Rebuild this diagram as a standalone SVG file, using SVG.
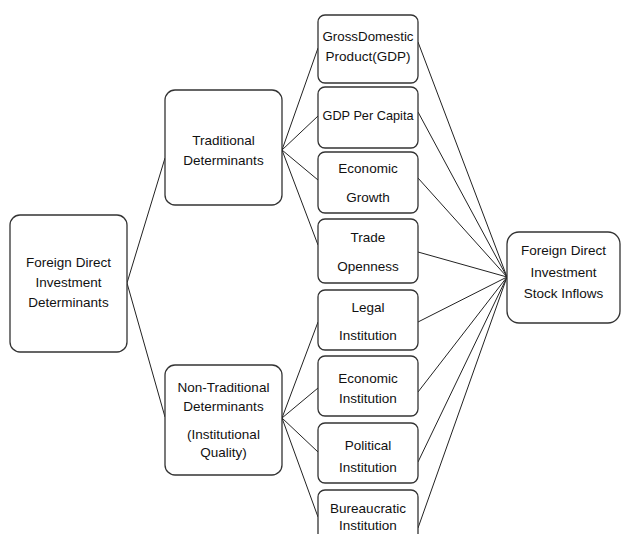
<svg xmlns="http://www.w3.org/2000/svg" width="623" height="534" viewBox="0 0 623 534">
<style>
.box{fill:#fff;stroke:#333;stroke-width:1.3}
.t{font-family:"Liberation Sans",Arial,sans-serif;font-size:13.5px;fill:#111;text-anchor:middle}
.c{stroke:#222;stroke-width:1;fill:none}
</style>
<rect width="623" height="534" fill="#fff"/>
<g id="connectors">
<path class="c" d="M127,283 L165,158 M127,283 L165,417"/>
<path class="c" d="M282,150 L318,48 M282,150 L318,116 M282,150 L318,180 M282,150 L318,245"/>
<path class="c" d="M282,418 L318,322 M282,418 L318,388 M282,418 L318,452 M282,418 L318,517"/>
<path class="c" d="M418,42 L507,277 M418,112 L507,277 M418,178 L507,277 M418,252 L507,277 M418,322 L507,277 M418,392 L507,277 M418,462 L507,277 M418,528 L507,277"/>
</g>
<g id="fdi-determinants">
<rect class="box" x="10" y="215" width="117" height="137" rx="10"/>
<text class="t" x="68.5" y="267">Foreign Direct</text>
<text class="t" x="68.5" y="287">Investment</text>
<text class="t" x="68.5" y="307">Determinants</text>
</g>
<g id="traditional">
<rect class="box" x="165" y="90" width="117" height="115" rx="10"/>
<text class="t" x="223.5" y="145">Traditional</text>
<text class="t" x="223.5" y="165">Determinants</text>
</g>
<g id="non-traditional">
<rect class="box" x="165" y="365" width="117" height="110" rx="10"/>
<text class="t" x="223.5" y="392">Non-Traditional</text>
<text class="t" x="223.5" y="411">Determinants</text>
<text class="t" x="223.5" y="439">(Institutional</text>
<text class="t" x="223.5" y="457">Quality)</text>
</g>
<g id="gdp">
<rect class="box" x="318" y="15" width="100" height="68" rx="7"/>
<text class="t" x="368" y="41" textLength="91" lengthAdjust="spacingAndGlyphs">GrossDomestic</text>
<text class="t" x="368" y="61">Product(GDP)</text>
</g>
<g id="gdp-per-capita">
<rect class="box" x="318" y="87" width="100" height="61" rx="7"/>
<text class="t" x="368" y="120" textLength="91" lengthAdjust="spacingAndGlyphs">GDP Per Capita</text>
</g>
<g id="economic-growth">
<rect class="box" x="318" y="152" width="100" height="61" rx="7"/>
<text class="t" x="368" y="173">Economic</text>
<text class="t" x="368" y="202">Growth</text>
</g>
<g id="trade-openness">
<rect class="box" x="318" y="219" width="100" height="64" rx="7"/>
<text class="t" x="368" y="242">Trade</text>
<text class="t" x="368" y="271">Openness</text>
</g>
<g id="legal-institution">
<rect class="box" x="318" y="290" width="100" height="60" rx="7"/>
<text class="t" x="368" y="312">Legal</text>
<text class="t" x="368" y="340">Institution</text>
</g>
<g id="economic-institution">
<rect class="box" x="318" y="356" width="100" height="60" rx="7"/>
<text class="t" x="368" y="383">Economic</text>
<text class="t" x="368" y="403">Institution</text>
</g>
<g id="political-institution">
<rect class="box" x="318" y="423" width="100" height="60" rx="7"/>
<text class="t" x="368" y="450">Political</text>
<text class="t" x="368" y="472">Institution</text>
</g>
<g id="bureaucratic-institution">
<rect class="box" x="318" y="490" width="100" height="60" rx="7"/>
<text class="t" x="368" y="513">Bureaucratic</text>
<text class="t" x="368" y="530" font-size="12.5">Institution</text>
</g>
<g id="fdi-stock-inflows">
<rect class="box" x="507" y="232" width="113" height="91" rx="12"/>
<text class="t" x="563.5" y="255">Foreign Direct</text>
<text class="t" x="563.5" y="277">Investment</text>
<text class="t" x="563.5" y="298">Stock Inflows</text>
</g>
</svg>
